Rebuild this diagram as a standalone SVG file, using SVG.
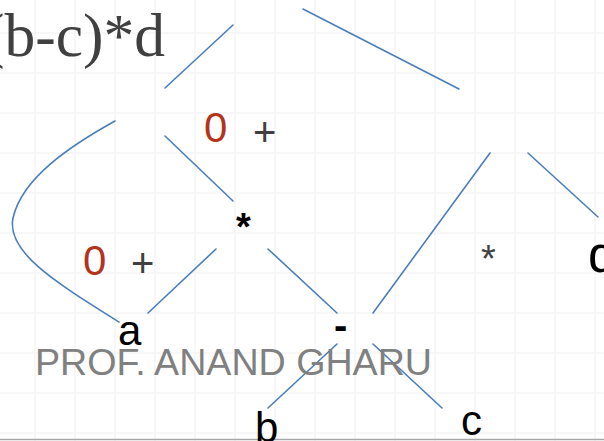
<svg xmlns="http://www.w3.org/2000/svg" width="604" height="441" viewBox="0 0 604 441">
<style>
.grid line{stroke:#f4f4f4;stroke-width:1.5}
.edge{stroke:#4a7ebb;stroke-width:1.6;fill:none;stroke-linecap:round}
.lbl{font-family:"Liberation Sans",Arial,sans-serif;fill:#000}
.gray{fill:#404040}
.red{fill:#b3341a}
</style>
<rect width="604" height="441" fill="#fff"/>
<g class="grid">
<line x1="35" y1="0" x2="35" y2="441"/><line x1="75" y1="0" x2="75" y2="441"/><line x1="115" y1="0" x2="115" y2="441"/><line x1="155" y1="0" x2="155" y2="441"/><line x1="195" y1="0" x2="195" y2="441"/><line x1="235" y1="0" x2="235" y2="441"/><line x1="275" y1="0" x2="275" y2="441"/><line x1="315" y1="0" x2="315" y2="441"/><line x1="355" y1="0" x2="355" y2="441"/><line x1="395" y1="0" x2="395" y2="441"/><line x1="435" y1="0" x2="435" y2="441"/><line x1="475" y1="0" x2="475" y2="441"/><line x1="515" y1="0" x2="515" y2="441"/><line x1="555" y1="0" x2="555" y2="441"/><line x1="595" y1="0" x2="595" y2="441"/>
<line x1="0" y1="33" x2="604" y2="33"/><line x1="0" y1="73" x2="604" y2="73"/><line x1="0" y1="113" x2="604" y2="113"/><line x1="0" y1="153" x2="604" y2="153"/><line x1="0" y1="193" x2="604" y2="193"/><line x1="0" y1="233" x2="604" y2="233"/><line x1="0" y1="273" x2="604" y2="273"/><line x1="0" y1="313" x2="604" y2="313"/><line x1="0" y1="353" x2="604" y2="353"/><line x1="0" y1="393" x2="604" y2="393"/><line x1="0" y1="433" x2="604" y2="433"/>
</g>
<line x1="0" y1="439.5" x2="604" y2="439.5" stroke="#a6a6a6" stroke-width="1.5"/>
<g id="title">
<text x="-16" y="56" font-family="'Liberation Serif','Times New Roman',serif" font-size="62" fill="#404040" textLength="181" lengthAdjust="spacingAndGlyphs">(b-c)*d</text>
</g>
<g id="connectors">
<line class="edge" x1="233" y1="25" x2="165" y2="88"/>
<line class="edge" x1="303" y1="9" x2="459" y2="89"/>
<path class="edge" d="M115,121 C70,146 22,178 13,218 C6,252 55,282 119,322"/>
<line class="edge" x1="165" y1="136" x2="233" y2="201"/>
<line class="edge" x1="216" y1="249" x2="148" y2="313"/>
<line class="edge" x1="268" y1="249" x2="337" y2="313"/>
<line class="edge" x1="490" y1="153" x2="373" y2="313"/>
<line class="edge" x1="528" y1="153" x2="598" y2="217"/>
<line class="edge" x1="337" y1="344" x2="268" y2="408"/>
<line class="edge" x1="373" y1="344" x2="442" y2="408"/>
</g>
<g id="node-plus-top">
<text class="lbl red" x="204" y="142" font-size="42">0</text>
<text class="lbl gray" x="253" y="146" font-size="40">+</text>
</g>
<g id="node-plus-left">
<text class="lbl red" x="83" y="275" font-size="42">0</text>
<text class="lbl gray" x="131" y="277" font-size="40">+</text>
</g>
<g id="node-mul-mid">
<text class="lbl" x="236" y="240" font-size="38" font-weight="bold">*</text>
</g>
<g id="node-mul-right">
<text class="lbl gray" x="481" y="272" font-size="38">*</text>
</g>
<g id="node-d">
<text class="lbl" x="588" y="272" font-size="52">d</text>
</g>
<g id="node-a">
<text class="lbl" x="118" y="345" font-size="42">a</text>
</g>
<g id="node-minus">
<text class="lbl" x="334" y="339" font-size="40" font-weight="bold">-</text>
</g>
<g id="node-b">
<text class="lbl" x="255" y="442" font-size="42">b</text>
</g>
<g id="node-c">
<text class="lbl" x="461" y="435" font-size="42">c</text>
</g>
<g id="watermark">
<text x="35" y="375" font-family="'Comic Sans MS','Liberation Sans',sans-serif" font-size="36" fill="#808080" textLength="397" lengthAdjust="spacingAndGlyphs">PROF. ANAND GHARU</text>
</g>
</svg>
